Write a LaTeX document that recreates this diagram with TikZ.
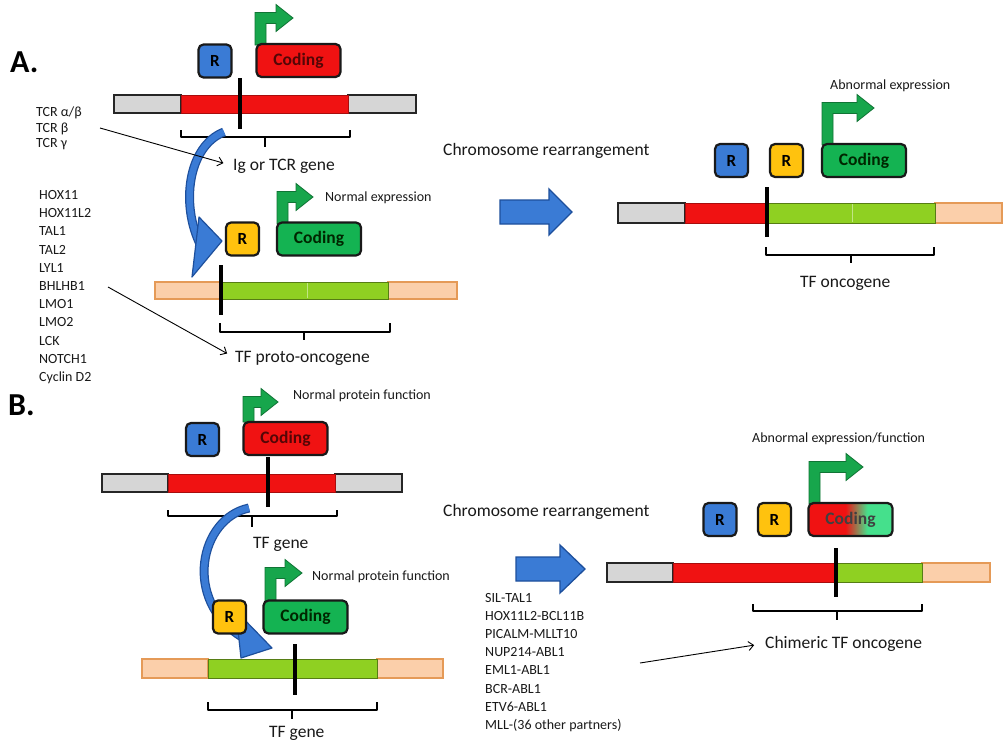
\documentclass[tikz,border=0pt]{standalone}
\usepackage{fontspec}
\setmainfont{Carlito}
\usetikzlibrary{arrows.meta}
\definecolor{cred}{HTML}{F01212}
\definecolor{clime}{HTML}{8FD022}
\definecolor{cpeach}{HTML}{FBCFAA}
\definecolor{cpeachd}{HTML}{E59A57}
\definecolor{cblue}{HTML}{3A7BD5}
\definecolor{cblued}{HTML}{1D4F9C}
\definecolor{cyel}{HTML}{FFC20E}
\definecolor{cgreen}{HTML}{14B352}
\definecolor{cgreenl}{HTML}{45E08C}
\definecolor{carrowg}{HTML}{17A64C}
\pgfdeclarehorizontalshading{codinggrad}{100bp}{color(0bp)=(cred); color(47bp)=(cred); color(60bp)=(cgreenl); color(100bp)=(cgreenl)}
\newcommand{\greenbent}[4]{%
  \draw[bentarrow] (#1,#2) -- (#1,#3-5.5) -- (#4-17,#3-5.5) -- (#4-17,#3-13.5) -- (#4,#3)
    -- (#4-17,#3+13.5) -- (#4-17,#3+5.5) -- (#1+11,#3+5.5) -- (#1+11,#2) -- cycle;}
\newcommand{\genebrace}[6]{%
  \draw[bracket] (#1,#3) -- (#1,#4) -- (#2,#4) -- (#2,#3) (#5,#4) -- (#5,#6);}
\begin{document}
\begin{tikzpicture}[x=1pt,y=-1pt,
  lab/.style={font=\fontsize{17.5}{20}\selectfont, inner sep=0pt, anchor=base west, text=black!90},
  note/.style={font=\fontsize{14}{16}\selectfont, inner sep=0pt, anchor=base west, text=black!90},
  gene/.style={font=\fontsize{14}{16}\selectfont, inner sep=0pt, anchor=base west, text=black!90},
  panel/.style={font=\fontsize{32}{34}\selectfont\bfseries, inner sep=0pt, anchor=base west},
  boxbase/.style={draw=black!90, line width=2.2pt, rounded corners=5pt, inner sep=0pt, minimum height=33pt},
  rblue/.style={boxbase, fill=cblue, minimum width=33pt, font=\fontsize{17}{17}\selectfont\bfseries},
  ryel/.style={boxbase, fill=cyel, minimum width=33pt, font=\fontsize{17}{17}\selectfont\bfseries},
  codred/.style={boxbase, fill=cred, minimum width=84pt, font=\fontsize{17.5}{18}\selectfont\bfseries, text=cred!35!black},
  codgreen/.style={boxbase, fill=cgreen, minimum width=84pt, font=\fontsize{17.5}{18}\selectfont\bfseries, text=green!15!black},
  codmix/.style={boxbase, shading=codinggrad, minimum width=84pt, font=\fontsize{17.5}{18}\selectfont\bfseries, text=black!75},
  greyseg/.style={fill=black!16, draw=black!85, line width=1.2pt},
  redseg/.style={fill=cred, draw=cred!70!black, line width=0.8pt},
  limeseg/.style={fill=clime, draw=clime!60!black, line width=0.8pt},
  peachseg/.style={fill=cpeach, draw=cpeachd, line width=1.2pt},
  cutline/.style={line width=4pt, black},
  bracket/.style={line width=2.4pt, black, line join=round},
  bentarrow/.style={fill=carrowg, draw=carrowg!70!black, line width=0.8pt, line join=miter},
  blockarrow/.style={fill=cblue, draw=cblued, line width=1.3pt, line join=miter},
  pointer/.style={line width=0.9pt, black, -{Straight Barb[length=5pt,width=9pt]}},
  arcdark/.style={line width=9pt, cblued},
  arclight/.style={line width=6.5pt, cblue},
  arctip/.style={fill=cblue, draw=cblued, line width=1.2pt, line join=round},
  divider/.style={line width=0.7pt, clime!55!white}
]
\useasboundingbox (0,0) rectangle (1004,744);
\fill[white] (0,0) rectangle (1004,744);

% ---------------- Panel A ----------------
\node[panel] (pa) at (10,72) {A.};

% top chromosome (Ig / TCR)
\filldraw[greyseg] (114,95) rectangle (181,113);
\filldraw[greyseg] (348,95) rectangle (416,113);
\filldraw[redseg] (181,95) rectangle (348,113);
\draw[cutline] (240,78) -- (240,129);
\genebrace{181}{350}{130}{137}{265}{147}
\node[lab] (iglabel) at (233,170) {Ig or TCR gene};

% proto-oncogene chromosome
\filldraw[peachseg] (155,282) rectangle (220,299);
\filldraw[peachseg] (388,282) rectangle (457,299);
\filldraw[limeseg] (220,282) rectangle (388,299);
\draw[divider] (307,283) -- (307,298);
\draw[cutline] (221,265) -- (221,315);
\genebrace{220}{390}{323}{332}{304}{340}
\node[lab] (protolabel) at (235,362) {TF proto-oncogene};

% rearranged chromosome A
\filldraw[greyseg] (618,203) rectangle (685,223);
\filldraw[redseg] (685,203) rectangle (765,223);
\filldraw[peachseg] (935,203) rectangle (1002,223);
\filldraw[limeseg] (765,203) rectangle (935,223);
\draw[divider] (852,204) -- (852,222);
\draw[cutline] (767,187) -- (767,237);
\genebrace{766}{934}{247}{255}{851}{263}
\node[lab] (onclabel) at (800,287) {TF oncogene};

% green bent arrows A
\greenbent{255}{45}{18}{293}
\greenbent{277}{224}{197}{313}
\greenbent{822}{145}{108}{874}

% curved blue arrow A
\draw[arcdark] (224,132) .. controls (188,146) and (180,205) .. (201,246);
\draw[arclight] (224,132) .. controls (188,146) and (180,205) .. (201,246);
\filldraw[arctip] (199,217) -- (222,241) -- (192,277) -- cycle;

% boxes A
\node[rblue] (ra1) at (215,61) {R};
\node[codred] (ca1) at (298.5,60.5) {Coding};
\node[ryel] (ra2) at (242.5,239) {R};
\node[codgreen] (ca2) at (319,239) {Coding};
\node[rblue] (ra3) at (731.5,160.5) {R};
\node[ryel] (ra4) at (786.5,160.5) {R};
\node[codgreen] (ca3) at (864,160.5) {Coding};

% notes A
\node[note] (nexp) at (325,201) {Normal expression};
\node[note] (aexp) at (830,89) {Abnormal expression};
\node[lab] (chra) at (443,155) {Chromosome rearrangement};
\draw[blockarrow] (500,200) -- (549,200) -- (549,189) -- (572,212) -- (549,235) -- (549,224) -- (500,224) -- cycle;

% gene lists A
\foreach \t [count=\i from 0] in {TCR α/β, TCR β, TCR γ}
  \node[gene] (tcr\i) at (36,116.5+15.5*\i) {\t};
\foreach \t [count=\i from 0] in {HOX11, HOX11L2, TAL1, TAL2, LYL1, BHLHB1, LMO1, LMO2, LCK, NOTCH1, Cyclin D2}
  \node[gene] (hox\i) at (39,199.5+18.2*\i) {\t};
\coordinate (tcrout) at (100,128);
\coordinate (hoxout) at (108,287);
\draw[pointer, shorten >=10pt] (tcrout) -- (iglabel.west);
\draw[pointer, shorten >=9pt] (hoxout) -- (protolabel.west);

% ---------------- Panel B ----------------
\node[panel] (pb) at (8,415) {B.};

% top chromosome B
\filldraw[greyseg] (102,474) rectangle (168,492);
\filldraw[greyseg] (335,474) rectangle (402,492);
\filldraw[redseg] (168,474) rectangle (335,492);
\draw[cutline] (268,457) -- (268,507);
\genebrace{168}{337}{510}{516}{252}{527}
\node[lab] (tfg1) at (253,548) {TF gene};

% bottom chromosome B
\filldraw[peachseg] (142,659) rectangle (208,678);
\filldraw[peachseg] (377,659) rectangle (443,678);
\filldraw[limeseg] (208,659) rectangle (377,678);
\draw[cutline] (295,644) -- (295,695);
\genebrace{208}{377}{702}{710}{292}{719}
\node[lab] (tfg2) at (269,737) {TF gene};

% rearranged chromosome B
\filldraw[greyseg] (607,563) rectangle (673,582);
\filldraw[redseg] (673,563) rectangle (835,582);
\filldraw[peachseg] (922,563) rectangle (990,582);
\filldraw[limeseg] (835,563) rectangle (922,582);
\draw[cutline] (836,548) -- (836,597);
\genebrace{753}{922}{604}{611}{837}{620}
\node[lab] (chimlabel) at (765,648) {Chimeric TF oncogene};

% green bent arrows B
\greenbent{243}{422}{402}{278}
\greenbent{265}{601}{573}{302}
\greenbent{809}{504}{467}{863}

% curved blue arrow B
\draw[arcdark] (249,508) .. controls (200,518) and (182,600) .. (242,637);
\draw[arclight] (249,508) .. controls (200,518) and (182,600) .. (242,637);
\filldraw[arctip] (236,611) -- (272,648) -- (241,658) -- cycle;

% boxes B
\node[rblue] (rb1) at (202.5,439.5) {R};
\node[codred] (cb1) at (285.5,438.5) {Coding};
\node[ryel] (rb2) at (229.5,617) {R};
\node[codgreen] (cb2) at (305.5,617) {Coding};
\node[rblue] (rb3) at (720,519.5) {R};
\node[ryel] (rb4) at (774.5,519.5) {R};
\node[codmix] (cb3) at (850.5,519.5) {Coding};

% notes B
\node[note] (npf1) at (293,399) {Normal protein function};
\node[note] (npf2) at (312,580) {Normal protein function};
\node[note] (aexpf) at (752,442) {Abnormal expression/function};
\node[lab] (chrb) at (443,516) {Chromosome rearrangement};
\draw[blockarrow] (516,557) -- (560,557) -- (560,545) -- (585,569) -- (560,593) -- (560,581) -- (516,581) -- cycle;

% fusion list B
\foreach \t [count=\i from 0] in {SIL-TAL1, HOX11L2-BCL11B, PICALM-MLLT10, NUP214-ABL1, EML1-ABL1, BCR-ABL1, ETV6-ABL1, MLL-(36 other partners)}
  \node[gene] (fus\i) at (485,602.5+18.1*\i) {\t};
\coordinate (fusout) at (640,663);
\draw[pointer, shorten >=11pt] (fusout) -- (chimlabel.west);
\end{tikzpicture}
\end{document}
